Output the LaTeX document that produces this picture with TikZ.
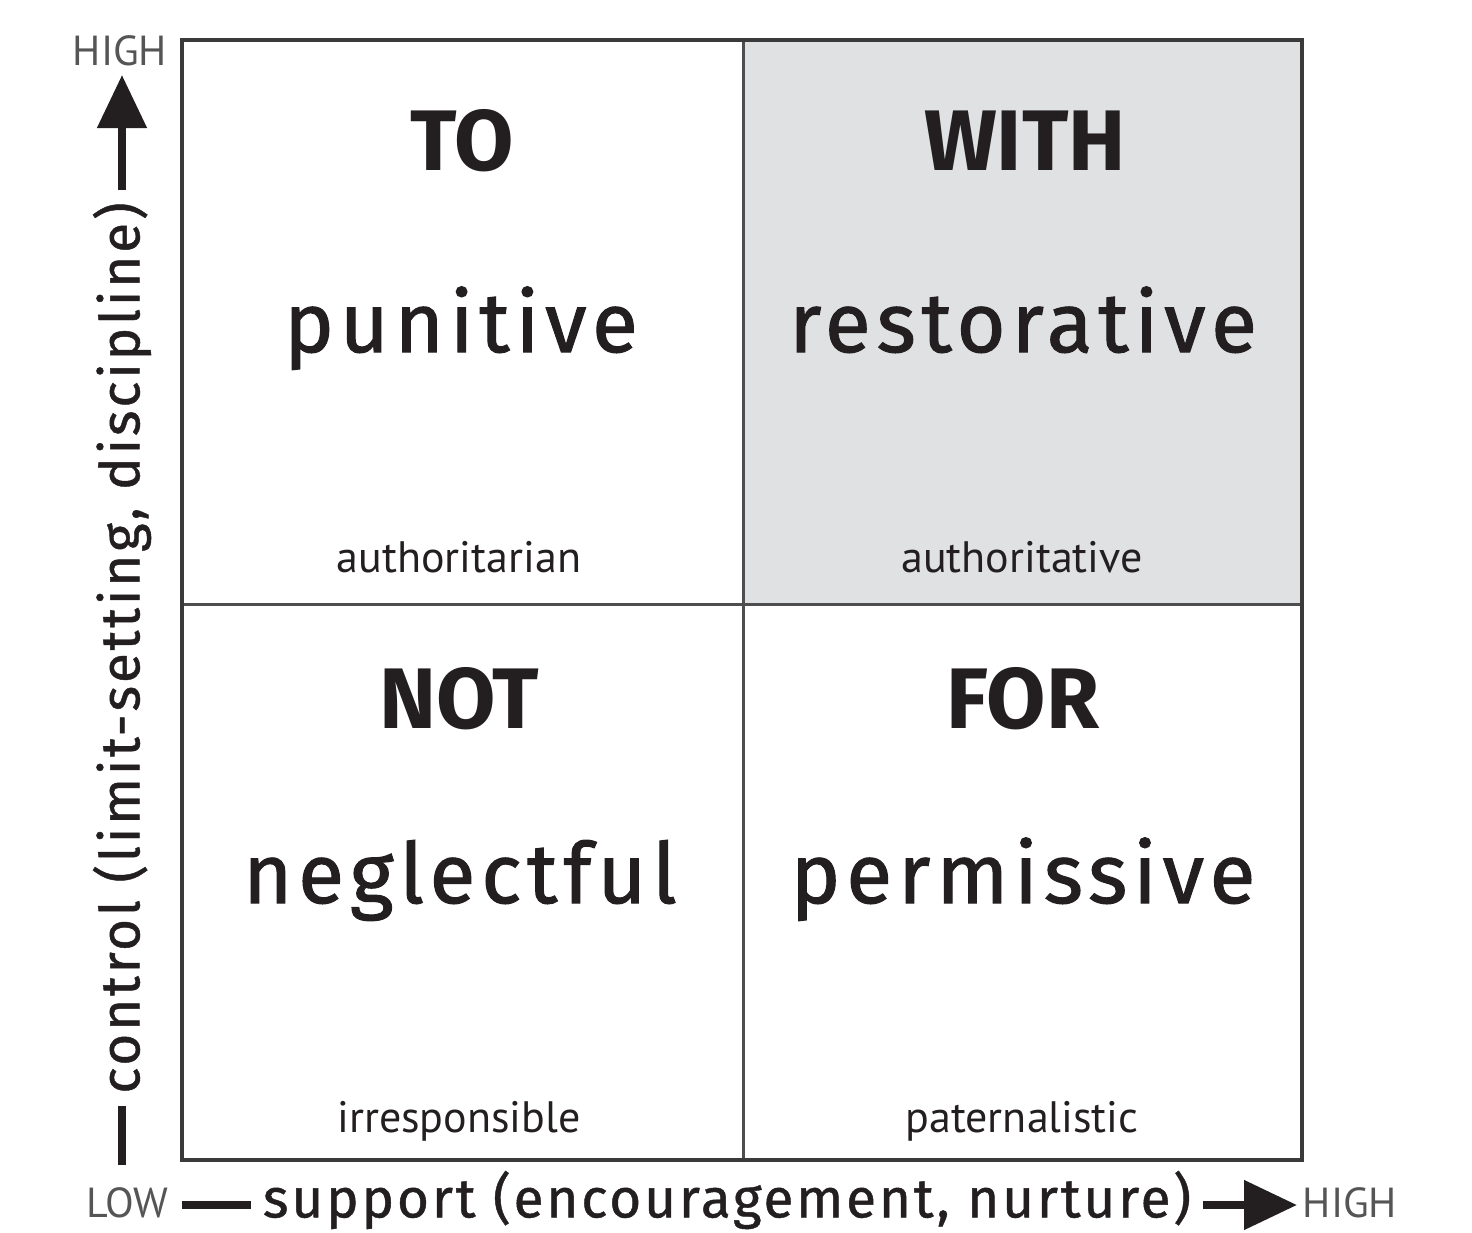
\documentclass[tikz,border=0pt]{standalone}
\usepackage{fontspec}
\usetikzlibrary{arrows.meta}
\newfontfamily\headf{Fira Sans}
\newfontfamily\wordf[LetterSpace=7,FakeBold=1.2]{Fira Sans}
\newfontfamily\axisf[LetterSpace=5,FakeBold=0.8]{Fira Sans}
\newfontfamily\smallf{PT Sans}
\definecolor{ink}{HTML}{231F20}
\definecolor{frame}{HTML}{3A3A3A}
\definecolor{cellgray}{HTML}{E0E1E3}
\definecolor{hilo}{HTML}{555555}
\tikzset{
  head/.style={font=\headf\bfseries\fontsize{86}{86}\selectfont, text=ink, anchor=base, inner sep=0pt},
  word/.style={font=\wordf\fontsize{84}{84}\selectfont, text=ink, anchor=base, inner sep=0pt},
  note/.style={font=\smallf\fontsize{44}{44}\selectfont, text=ink, anchor=base, inner sep=0pt},
  axislab/.style={font=\axisf\fontsize{55}{55}\selectfont, text=ink, inner sep=0pt},
  hilab/.style={font=\smallf\fontsize{42}{42}\selectfont, text=hilo, anchor=base, inner sep=0pt},
  axisline/.style={line width=8pt, draw=ink},
  axisarrow/.style={line width=8pt, draw=ink, -{Triangle[length=53pt,width=48pt]}},
}
\begin{document}
\begin{tikzpicture}[x=1pt,y=-1pt]
\useasboundingbox (0,0) rectangle (1472,1232);
% shaded quadrant
\fill[cellgray] (743,40) rectangle (1302,604);
% grid
\draw[line width=3pt, draw=frame!90] (743,40) -- (743,1160);
\draw[line width=3pt, draw=frame!90] (182,604) -- (1302,604);
\draw[line width=4pt, draw=frame] (182,40) rectangle (1302,1160);
% quadrant texts
\node[head] (to) at (462,170) {TO};
\node[head] (with) at (1025,170) {WITH};
\node[head] (not) at (459,728) {NOT};
\node[head] (for) at (1023,728) {FOR};
\node[word] (pun) at (461,352) {punitive};
\node[word] (res) at (1023,352) {restorative};
\node[word] (neg) at (460,903) {neglectful};
\node[word] (per) at (1023,903) {permissive};
\node[note] (auth1) at (459,572) {authoritarian};
\node[note] (auth2) at (1022,572) {authoritative};
\node[note] (irr) at (459,1132) {irresponsible};
\node[note] (pat) at (1022,1132) {paternalistic};
% axes
\node[hilab] (yhigh) at (120,65) {HIGH};
\node[hilab] (xlow) at (127,1217) {LOW};
\node[hilab] (xhigh) at (1350,1217) {HIGH};
\node[axislab, rotate=90, inner xsep=12pt] (ylab) at (122,648) {control (limit-setting, discipline)};
\node[axislab, inner xsep=12pt] (xlab) at (727,1200) {support (encouragement, nurture)};
\coordinate (ybot) at (122,1165);
\coordinate (ytip) at (122,75);
\coordinate (xtip) at (1297,1205);
\draw[axisline] (ybot) -- (ylab.west);
\draw[axisarrow] (ylab.east) -- (ytip);
\draw[axisline] ([xshift=14pt]xlow.east |- xtip) -- (xlab.west |- xtip);
\draw[axisarrow] (xlab.east |- xtip) -- (xtip);
\end{tikzpicture}
\end{document}
